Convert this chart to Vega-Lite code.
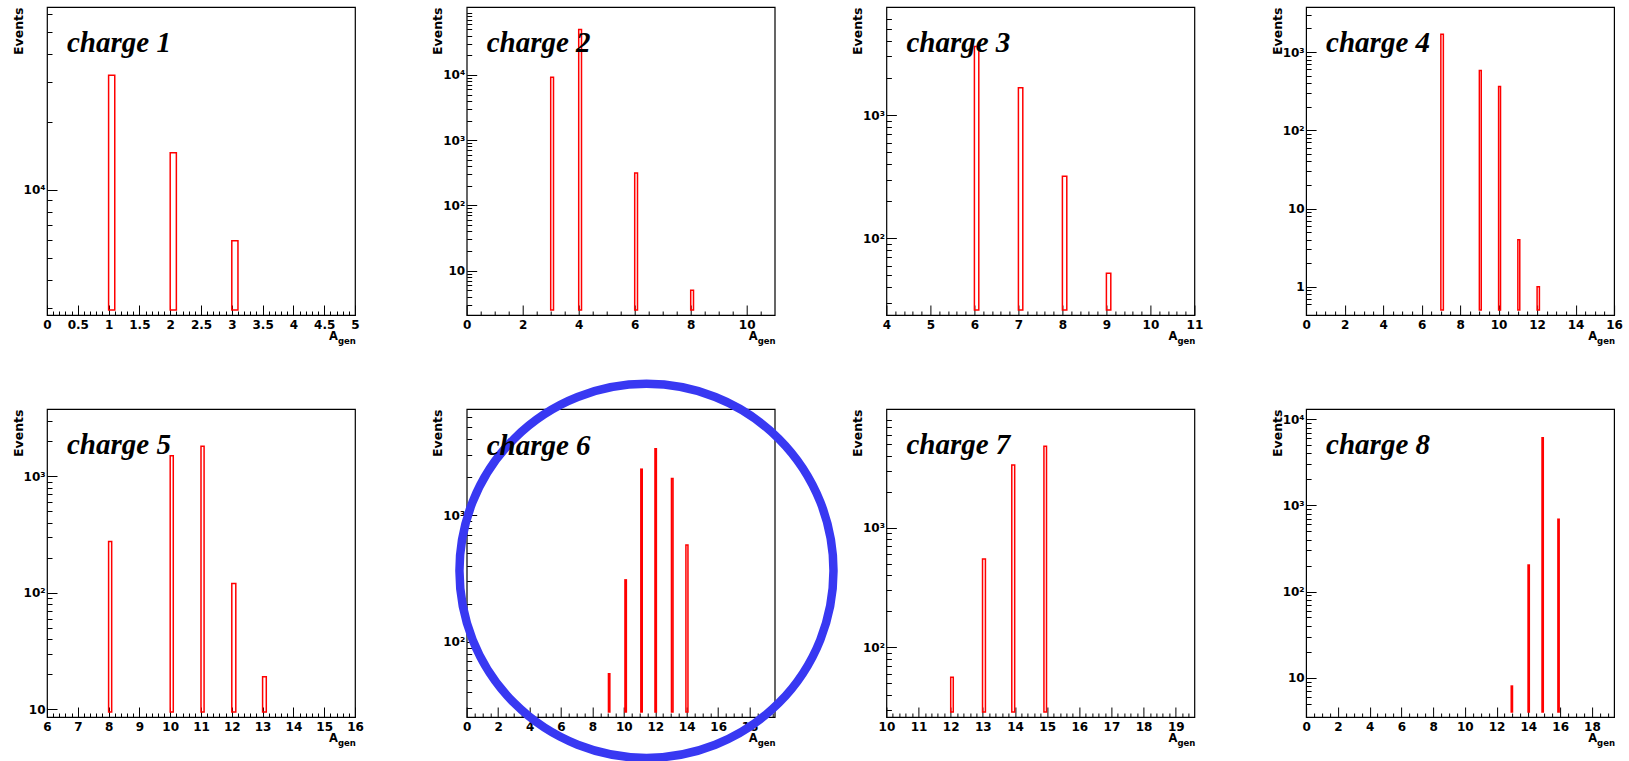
{
  "$schema": "https://vega.github.io/schema/vega-lite/v6.json",
  "background": "white",
  "padding": {"left": 11, "top": 6, "right": 5, "bottom": 0},
  "datasets": {
    "c1": [{"a": 1, "a2": 1.1, "n": 32100}, {"a": 2, "a2": 2.1, "n": 14600}, {"a": 3, "a2": 3.1, "n": 5960}],
    "c2": [{"a": 3, "a2": 3.1, "n": 9230}, {"a": 4, "a2": 4.1, "n": 49900}, {"a": 6, "a2": 6.1, "n": 313}, {"a": 8, "a2": 8.1, "n": 5}],
    "c3": [{"a": 6, "a2": 6.1, "n": 3610}, {"a": 7, "a2": 7.1, "n": 1670}, {"a": 8, "a2": 8.1, "n": 320}, {"a": 9, "a2": 9.1, "n": 52}],
    "c4": [{"a": 7, "a2": 7.13, "n": 1690}, {"a": 9, "a2": 9.1, "n": 582}, {"a": 10, "a2": 10.1, "n": 362}, {"a": 11, "a2": 11.1, "n": 4}, {"a": 12, "a2": 12.12, "n": 1}],
    "c5": [{"a": 8, "a2": 8.1, "n": 275}, {"a": 10, "a2": 10.1, "n": 1505}, {"a": 11, "a2": 11.1, "n": 1812}, {"a": 12, "a2": 12.13, "n": 120}, {"a": 13, "a2": 13.12, "n": 19}],
    "c6": [{"a": 9.02, "a2": 9.11, "n": 56}, {"a": 10.07, "a2": 10.16, "n": 309}, {"a": 11.08, "a2": 11.17, "n": 2317}, {"a": 11.98, "a2": 12.07, "n": 3353}, {"a": 13.03, "a2": 13.13, "n": 1954}, {"a": 13.95, "a2": 14.08, "n": 582}],
    "c7": [{"a": 12, "a2": 12.08, "n": 56}, {"a": 12.99, "a2": 13.08, "n": 547}, {"a": 13.9, "a2": 13.99, "n": 3344}, {"a": 14.9, "a2": 14.98, "n": 4800}],
    "c8": [{"a": 12.92, "a2": 13.0, "n": 8}, {"a": 13.98, "a2": 14.06, "n": 203}, {"a": 14.86, "a2": 14.94, "n": 6070}, {"a": 15.86, "a2": 15.94, "n": 690}],
    "ring": [{"cx": 11.44, "cy": 364}]
  },
  "config": {
    "view": {"stroke": "black", "strokeWidth": 1.2},
    "title": {"anchor": "start", "frame": "group", "orient": "top", "offset": -50.5, "dx": 20, "baseline": "alphabetic", "font": "Liberation Serif", "fontStyle": "italic", "fontWeight": "bold", "fontSize": 29, "color": "black"},
    "axis": {"domain": false, "grid": false, "tickColor": "black", "tickWidth": 1, "labelColor": "black", "labelFont": "DejaVu Sans", "labelFontWeight": "bold", "labelFontSize": 12, "labelOverlap": false, "labelFlush": false, "titleFont": "DejaVu Sans", "titleFontWeight": "bold", "titleColor": "black"},
    "axisX": {"tickSize": -10, "labelPadding": 14},
    "axisY": {"tickSize": -10, "labelPadding": 12}
  },
  "concat": [
    {
      "width": 308, "height": 308,
      "title": "charge 1",
      "data": {"name": "c1"},
      "layer": [
        {"mark": {"type": "bar", "filled": false, "stroke": "#ff0000", "strokeWidth": 1.5},
         "encoding": {
           "x": {"field": "a", "type": "quantitative", "scale": {"domain": [0, 5], "nice": false, "zero": false},
                 "axis": {"orient": "bottom", "values": [0, 0.5, 1, 1.5, 2, 2.5, 3, 3.5, 4, 4.5, 5], "format": "~r", "title": "A", "titleX": 290.5, "titleY": 24.5, "titleAlign": "right", "titleBaseline": "alphabetic", "titleAngle": 0, "titleFontSize": 11.5}},
           "x2": {"field": "a2"},
           "y": {"field": "n", "type": "quantitative", "scale": {"type": "log", "domain": [2950, 61100], "nice": false},
                 "axis": {"orient": "left", "values": [10000], "labelExpr": "datum.value == 10000 ? '10⁴' : datum.value == 1000 ? '10³' : datum.value == 100 ? '10²' : datum.value == 10 ? '10' : '1'", "labelBaseline": "middle", "title": "Events", "titleX": -29, "titleY": 0, "titleAlign": "right", "titleBaseline": "middle", "titleAngle": 270, "titleFontSize": 12.5}},
           "y2": {"datum": 2950}
         }},
        {"mark": {"type": "bar", "opacity": 0},
         "encoding": {
           "x": {"field": "a", "type": "quantitative", "axis": {"orient": "bottom", "values": [0.1, 0.2, 0.3, 0.4, 0.6, 0.7, 0.8, 0.9, 1.1, 1.2, 1.3, 1.4, 1.6, 1.7, 1.8, 1.9, 2.1, 2.2, 2.3, 2.4, 2.6, 2.7, 2.8, 2.9, 3.1, 3.2, 3.3, 3.4, 3.6, 3.7, 3.8, 3.9, 4.1, 4.2, 4.3, 4.4, 4.6, 4.7, 4.8, 4.9], "labels": false, "tickSize": -4, "title": "gen", "titleX": 290.5, "titleY": 28, "titleAlign": "left", "titleBaseline": "alphabetic", "titleAngle": 0, "titleFontSize": 8.5}},
           "x2": {"field": "a2"},
           "y": {"field": "n", "type": "quantitative", "axis": {"orient": "left", "values": [3000, 4000, 5000, 6000, 7000, 8000, 9000, 20000, 30000, 40000, 50000, 60000], "labels": false, "tickSize": -5, "title": null}}
         }}
      ],
      "resolve": {"axis": {"x": "independent", "y": "independent"}}
    },
    {
      "width": 308, "height": 308,
      "title": "charge 2",
      "data": {"name": "c2"},
      "layer": [
        {"mark": {"type": "bar", "filled": false, "stroke": "#ff0000", "strokeWidth": 1.5},
         "encoding": {
           "x": {"field": "a", "type": "quantitative", "scale": {"domain": [0, 11], "nice": false, "zero": false},
                 "axis": {"orient": "bottom", "values": [0, 2, 4, 6, 8, 10], "format": "~r", "title": "A", "titleX": 290.5, "titleY": 24.5, "titleAlign": "right", "titleBaseline": "alphabetic", "titleAngle": 0, "titleFontSize": 11.5}},
           "x2": {"field": "a2"},
           "y": {"field": "n", "type": "quantitative", "scale": {"type": "log", "domain": [2.49, 92200], "nice": false},
                 "axis": {"orient": "left", "values": [10, 100, 1000, 10000], "labelExpr": "datum.value == 10000 ? '10⁴' : datum.value == 1000 ? '10³' : datum.value == 100 ? '10²' : datum.value == 10 ? '10' : '1'", "labelBaseline": "middle", "title": "Events", "titleX": -29, "titleY": 0, "titleAlign": "right", "titleBaseline": "middle", "titleAngle": 270, "titleFontSize": 12.5}},
           "y2": {"datum": 2.49}
         }},
        {"mark": {"type": "bar", "opacity": 0},
         "encoding": {
           "x": {"field": "a", "type": "quantitative", "axis": {"orient": "bottom", "values": [0.5, 1, 1.5, 2.5, 3, 3.5, 4.5, 5, 5.5, 6.5, 7, 7.5, 8.5, 9, 9.5, 10.5], "labels": false, "tickSize": -4, "title": "gen", "titleX": 290.5, "titleY": 28, "titleAlign": "left", "titleBaseline": "alphabetic", "titleAngle": 0, "titleFontSize": 8.5}},
           "x2": {"field": "a2"},
           "y": {"field": "n", "type": "quantitative", "axis": {"orient": "left", "values": [3, 4, 5, 6, 7, 8, 9, 20, 30, 40, 50, 60, 70, 80, 90, 200, 300, 400, 500, 600, 700, 800, 900, 2000, 3000, 4000, 5000, 6000, 7000, 8000, 9000, 20000, 30000, 40000, 50000, 60000, 70000, 80000, 90000], "labels": false, "tickSize": -5, "title": null}}
         }}
      ],
      "resolve": {"axis": {"x": "independent", "y": "independent"}}
    },
    {
      "width": 308, "height": 308,
      "title": "charge 3",
      "data": {"name": "c3"},
      "layer": [
        {"mark": {"type": "bar", "filled": false, "stroke": "#ff0000", "strokeWidth": 1.5},
         "encoding": {
           "x": {"field": "a", "type": "quantitative", "scale": {"domain": [4, 11], "nice": false, "zero": false},
                 "axis": {"orient": "bottom", "values": [4, 5, 6, 7, 8, 9, 10, 11], "format": "~r", "title": "A", "titleX": 290.5, "titleY": 24.5, "titleAlign": "right", "titleBaseline": "alphabetic", "titleAngle": 0, "titleFontSize": 11.5}},
           "x2": {"field": "a2"},
           "y": {"field": "n", "type": "quantitative", "scale": {"type": "log", "domain": [26.2, 6890], "nice": false},
                 "axis": {"orient": "left", "values": [100, 1000], "labelExpr": "datum.value == 10000 ? '10⁴' : datum.value == 1000 ? '10³' : datum.value == 100 ? '10²' : datum.value == 10 ? '10' : '1'", "labelBaseline": "middle", "title": "Events", "titleX": -29, "titleY": 0, "titleAlign": "right", "titleBaseline": "middle", "titleAngle": 270, "titleFontSize": 12.5}},
           "y2": {"datum": 26.2}
         }},
        {"mark": {"type": "bar", "opacity": 0},
         "encoding": {
           "x": {"field": "a", "type": "quantitative", "axis": {"orient": "bottom", "values": [4.2, 4.4, 4.6, 4.8, 5.2, 5.4, 5.6, 5.8, 6.2, 6.4, 6.6, 6.8, 7.2, 7.4, 7.6, 7.8, 8.2, 8.4, 8.6, 8.8, 9.2, 9.4, 9.6, 9.8, 10.2, 10.4, 10.6, 10.8], "labels": false, "tickSize": -4, "title": "gen", "titleX": 290.5, "titleY": 28, "titleAlign": "left", "titleBaseline": "alphabetic", "titleAngle": 0, "titleFontSize": 8.5}},
           "x2": {"field": "a2"},
           "y": {"field": "n", "type": "quantitative", "axis": {"orient": "left", "values": [30, 40, 50, 60, 70, 80, 90, 200, 300, 400, 500, 600, 700, 800, 900, 2000, 3000, 4000, 5000, 6000], "labels": false, "tickSize": -5, "title": null}}
         }}
      ],
      "resolve": {"axis": {"x": "independent", "y": "independent"}}
    },
    {
      "width": 308, "height": 308,
      "title": "charge 4",
      "data": {"name": "c4"},
      "layer": [
        {"mark": {"type": "bar", "filled": false, "stroke": "#ff0000", "strokeWidth": 1.5},
         "encoding": {
           "x": {"field": "a", "type": "quantitative", "scale": {"domain": [0, 16], "nice": false, "zero": false},
                 "axis": {"orient": "bottom", "values": [0, 2, 4, 6, 8, 10, 12, 14, 16], "format": "~r", "title": "A", "titleX": 290.5, "titleY": 24.5, "titleAlign": "right", "titleBaseline": "alphabetic", "titleAngle": 0, "titleFontSize": 11.5}},
           "x2": {"field": "a2"},
           "y": {"field": "n", "type": "quantitative", "scale": {"type": "log", "domain": [0.505, 3245], "nice": false},
                 "axis": {"orient": "left", "values": [1, 10, 100, 1000], "labelExpr": "datum.value == 10000 ? '10⁴' : datum.value == 1000 ? '10³' : datum.value == 100 ? '10²' : datum.value == 10 ? '10' : '1'", "labelBaseline": "middle", "title": "Events", "titleX": -29, "titleY": 0, "titleAlign": "right", "titleBaseline": "middle", "titleAngle": 270, "titleFontSize": 12.5}},
           "y2": {"datum": 0.505}
         }},
        {"mark": {"type": "bar", "opacity": 0},
         "encoding": {
           "x": {"field": "a", "type": "quantitative", "axis": {"orient": "bottom", "values": [0.5, 1, 1.5, 2.5, 3, 3.5, 4.5, 5, 5.5, 6.5, 7, 7.5, 8.5, 9, 9.5, 10.5, 11, 11.5, 12.5, 13, 13.5, 14.5, 15, 15.5], "labels": false, "tickSize": -4, "title": "gen", "titleX": 290.5, "titleY": 28, "titleAlign": "left", "titleBaseline": "alphabetic", "titleAngle": 0, "titleFontSize": 8.5}},
           "x2": {"field": "a2"},
           "y": {"field": "n", "type": "quantitative", "axis": {"orient": "left", "values": [0.6, 0.7, 0.8, 0.9, 2, 3, 4, 5, 6, 7, 8, 9, 20, 30, 40, 50, 60, 70, 80, 90, 200, 300, 400, 500, 600, 700, 800, 900, 2000, 3000], "labels": false, "tickSize": -5, "title": null}}
         }}
      ],
      "resolve": {"axis": {"x": "independent", "y": "independent"}}
    },
    {
      "width": 308, "height": 308,
      "title": "charge 5",
      "data": {"name": "c5"},
      "layer": [
        {"mark": {"type": "bar", "filled": false, "stroke": "#ff0000", "strokeWidth": 1.5},
         "encoding": {
           "x": {"field": "a", "type": "quantitative", "scale": {"domain": [6, 16], "nice": false, "zero": false},
                 "axis": {"orient": "bottom", "values": [6, 7, 8, 9, 10, 11, 12, 13, 14, 15, 16], "format": "~r", "title": "A", "titleX": 290.5, "titleY": 24.5, "titleAlign": "right", "titleBaseline": "alphabetic", "titleAngle": 0, "titleFontSize": 11.5}},
           "x2": {"field": "a2"},
           "y": {"field": "n", "type": "quantitative", "scale": {"type": "log", "domain": [9.44, 3430], "nice": false},
                 "axis": {"orient": "left", "values": [10, 100, 1000], "labelExpr": "datum.value == 10000 ? '10⁴' : datum.value == 1000 ? '10³' : datum.value == 100 ? '10²' : datum.value == 10 ? '10' : '1'", "labelBaseline": "middle", "title": "Events", "titleX": -29, "titleY": 0, "titleAlign": "right", "titleBaseline": "middle", "titleAngle": 270, "titleFontSize": 12.5}},
           "y2": {"datum": 9.44}
         }},
        {"mark": {"type": "bar", "opacity": 0},
         "encoding": {
           "x": {"field": "a", "type": "quantitative", "axis": {"orient": "bottom", "values": [6.2, 6.4, 6.6, 6.8, 7.2, 7.4, 7.6, 7.8, 8.2, 8.4, 8.6, 8.8, 9.2, 9.4, 9.6, 9.8, 10.2, 10.4, 10.6, 10.8, 11.2, 11.4, 11.6, 11.8, 12.2, 12.4, 12.6, 12.8, 13.2, 13.4, 13.6, 13.8, 14.2, 14.4, 14.6, 14.8, 15.2, 15.4, 15.6, 15.8], "labels": false, "tickSize": -4, "title": "gen", "titleX": 290.5, "titleY": 28, "titleAlign": "left", "titleBaseline": "alphabetic", "titleAngle": 0, "titleFontSize": 8.5}},
           "x2": {"field": "a2"},
           "y": {"field": "n", "type": "quantitative", "axis": {"orient": "left", "values": [20, 30, 40, 50, 60, 70, 80, 90, 200, 300, 400, 500, 600, 700, 800, 900, 2000, 3000], "labels": false, "tickSize": -5, "title": null}}
         }}
      ],
      "resolve": {"axis": {"x": "independent", "y": "independent"}}
    },
    {
      "width": 308, "height": 308,
      "title": {"text": "charge 6", "offset": -94.0},
      "layer": [
        {"data": {"name": "c6"},
         "mark": {"type": "bar", "filled": false, "stroke": "#ff0000", "strokeWidth": 1.5},
         "encoding": {
           "x": {"field": "a", "type": "quantitative", "scale": {"domain": [0, 19.6], "nice": false, "zero": false},
                 "axis": {"orient": "bottom", "values": [0, 2, 4, 6, 8, 10, 12, 14, 16, 18], "format": "~r", "title": "A", "titleX": 290.5, "titleY": 24.5, "titleAlign": "right", "titleBaseline": "alphabetic", "titleAngle": 0, "titleFontSize": 11.5}},
           "x2": {"field": "a2"},
           "y": {"field": "n", "type": "quantitative", "scale": {"type": "log", "domain": [27.9, 6325], "nice": false},
                 "axis": {"orient": "left", "values": [100, 1000], "labelExpr": "datum.value == 10000 ? '10⁴' : datum.value == 1000 ? '10³' : datum.value == 100 ? '10²' : datum.value == 10 ? '10' : '1'", "labelBaseline": "middle", "title": "Events", "titleX": -29, "titleY": 0, "titleAlign": "right", "titleBaseline": "middle", "titleAngle": 270, "titleFontSize": 12.5}},
           "y2": {"datum": 27.9}
         }},
        {"data": {"name": "c6"},
         "mark": {"type": "bar", "opacity": 0},
         "encoding": {
           "x": {"field": "a", "type": "quantitative", "axis": {"orient": "bottom", "values": [0.5, 1, 1.5, 2.5, 3, 3.5, 4.5, 5, 5.5, 6.5, 7, 7.5, 8.5, 9, 9.5, 10.5, 11, 11.5, 12.5, 13, 13.5, 14.5, 15, 15.5, 16.5, 17, 17.5, 18.5, 19, 19.5], "labels": false, "tickSize": -4, "title": "gen", "titleX": 290.5, "titleY": 28, "titleAlign": "left", "titleBaseline": "alphabetic", "titleAngle": 0, "titleFontSize": 8.5}},
           "x2": {"field": "a2"},
           "y": {"field": "n", "type": "quantitative", "axis": {"orient": "left", "values": [30, 40, 50, 60, 70, 80, 90, 200, 300, 400, 500, 600, 700, 800, 900, 2000, 3000, 4000, 5000, 6000], "labels": false, "tickSize": -5, "title": null}}
         }},
        {"data": {"name": "ring"},
         "mark": {"type": "point", "shape": "circle", "filled": false, "size": 139900, "stroke": "#3838f2", "strokeWidth": 8.5, "opacity": 1},
         "encoding": {
           "x": {"field": "cx", "type": "quantitative", "axis": null},
           "y": {"field": "cy", "type": "quantitative", "axis": null}
         }}
      ],
      "resolve": {"axis": {"x": "independent", "y": "independent"}}
    },
    {
      "width": 308, "height": 308,
      "title": "charge 7",
      "data": {"name": "c7"},
      "layer": [
        {"mark": {"type": "bar", "filled": false, "stroke": "#ff0000", "strokeWidth": 1.5},
         "encoding": {
           "x": {"field": "a", "type": "quantitative", "scale": {"domain": [10, 19.58], "nice": false, "zero": false},
                 "axis": {"orient": "bottom", "values": [10, 11, 12, 13, 14, 15, 16, 17, 18, 19], "format": "~r", "title": "A", "titleX": 290.5, "titleY": 24.5, "titleAlign": "right", "titleBaseline": "alphabetic", "titleAngle": 0, "titleFontSize": 11.5}},
           "x2": {"field": "a2"},
           "y": {"field": "n", "type": "quantitative", "scale": {"type": "log", "domain": [28.6, 8930], "nice": false},
                 "axis": {"orient": "left", "values": [100, 1000], "labelExpr": "datum.value == 10000 ? '10⁴' : datum.value == 1000 ? '10³' : datum.value == 100 ? '10²' : datum.value == 10 ? '10' : '1'", "labelBaseline": "middle", "title": "Events", "titleX": -29, "titleY": 0, "titleAlign": "right", "titleBaseline": "middle", "titleAngle": 270, "titleFontSize": 12.5}},
           "y2": {"datum": 28.6}
         }},
        {"mark": {"type": "bar", "opacity": 0},
         "encoding": {
           "x": {"field": "a", "type": "quantitative", "axis": {"orient": "bottom", "values": [10.2, 10.4, 10.6, 10.8, 11.2, 11.4, 11.6, 11.8, 12.2, 12.4, 12.6, 12.8, 13.2, 13.4, 13.6, 13.8, 14.2, 14.4, 14.6, 14.8, 15.2, 15.4, 15.6, 15.8, 16.2, 16.4, 16.6, 16.8, 17.2, 17.4, 17.6, 17.8, 18.2, 18.4, 18.6, 18.8, 19.2, 19.4], "labels": false, "tickSize": -4, "title": "gen", "titleX": 290.5, "titleY": 28, "titleAlign": "left", "titleBaseline": "alphabetic", "titleAngle": 0, "titleFontSize": 8.5}},
           "x2": {"field": "a2"},
           "y": {"field": "n", "type": "quantitative", "axis": {"orient": "left", "values": [30, 40, 50, 60, 70, 80, 90, 200, 300, 400, 500, 600, 700, 800, 900, 2000, 3000, 4000, 5000, 6000, 7000, 8000], "labels": false, "tickSize": -5, "title": null}}
         }}
      ],
      "resolve": {"axis": {"x": "independent", "y": "independent"}}
    },
    {
      "width": 308, "height": 308,
      "title": "charge 8",
      "data": {"name": "c8"},
      "layer": [
        {"mark": {"type": "bar", "filled": false, "stroke": "#ff0000", "strokeWidth": 1.5},
         "encoding": {
           "x": {"field": "a", "type": "quantitative", "scale": {"domain": [0, 19.4], "nice": false, "zero": false},
                 "axis": {"orient": "bottom", "values": [0, 2, 4, 6, 8, 10, 12, 14, 16, 18], "format": "~r", "title": "A", "titleX": 290.5, "titleY": 24.5, "titleAlign": "right", "titleBaseline": "alphabetic", "titleAngle": 0, "titleFontSize": 11.5}},
           "x2": {"field": "a2"},
           "y": {"field": "n", "type": "quantitative", "scale": {"type": "log", "domain": [4.0, 11480], "nice": false},
                 "axis": {"orient": "left", "values": [10, 100, 1000, 10000], "labelExpr": "datum.value == 10000 ? '10⁴' : datum.value == 1000 ? '10³' : datum.value == 100 ? '10²' : datum.value == 10 ? '10' : '1'", "labelBaseline": "middle", "title": "Events", "titleX": -29, "titleY": 0, "titleAlign": "right", "titleBaseline": "middle", "titleAngle": 270, "titleFontSize": 12.5}},
           "y2": {"datum": 4.0}
         }},
        {"mark": {"type": "bar", "opacity": 0},
         "encoding": {
           "x": {"field": "a", "type": "quantitative", "axis": {"orient": "bottom", "values": [0.5, 1, 1.5, 2.5, 3, 3.5, 4.5, 5, 5.5, 6.5, 7, 7.5, 8.5, 9, 9.5, 10.5, 11, 11.5, 12.5, 13, 13.5, 14.5, 15, 15.5, 16.5, 17, 17.5, 18.5, 19], "labels": false, "tickSize": -4, "title": "gen", "titleX": 290.5, "titleY": 28, "titleAlign": "left", "titleBaseline": "alphabetic", "titleAngle": 0, "titleFontSize": 8.5}},
           "x2": {"field": "a2"},
           "y": {"field": "n", "type": "quantitative", "axis": {"orient": "left", "values": [5, 6, 7, 8, 9, 20, 30, 40, 50, 60, 70, 80, 90, 200, 300, 400, 500, 600, 700, 800, 900, 2000, 3000, 4000, 5000, 6000, 7000, 8000, 9000], "labels": false, "tickSize": -5, "title": null}}
         }}
      ],
      "resolve": {"axis": {"x": "independent", "y": "independent"}}
    }
  ],
  "columns": 4,
  "spacing": {"row": 94, "column": 111.7},
  "bounds": "flush"
}
